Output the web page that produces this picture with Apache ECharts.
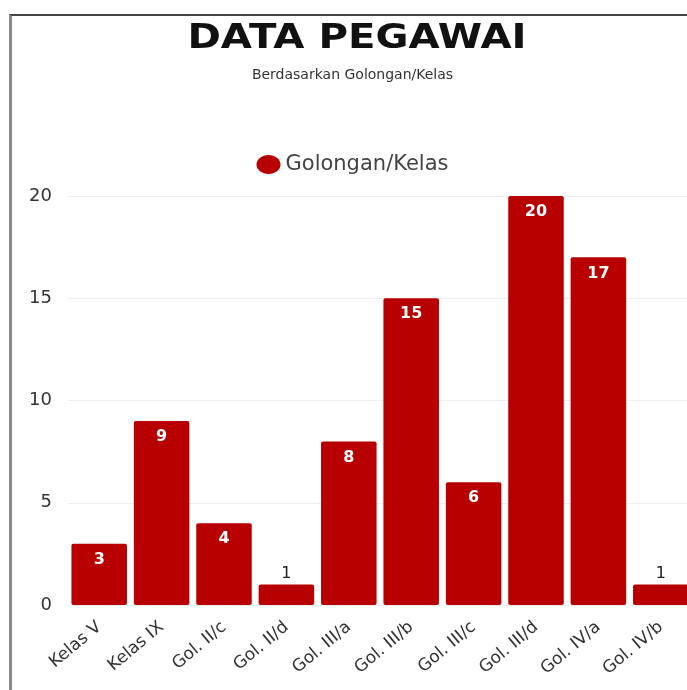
<!DOCTYPE html>
<html>
<head>
<meta charset="utf-8">
<script src="https://cdn.jsdelivr.net/npm/echarts@6/dist/echarts.min.js"></script>
<style>
  html, body { margin: 0; padding: 0; background: #fff; overflow: hidden; }
  #frame {
    position: absolute; left: 9px; top: 14px; width: 690px; height: 690px;
    border-top: 2px solid #444; border-left: 3px solid #888;
  }
  #chart { position: absolute; left: -12px; top: -16px; width: 705px; height: 690px; }
</style>
</head>
<body>
<div id="frame"><div id="chart"></div></div>
<script>
var categories = ['Kelas V', 'Kelas IX', 'Gol. II/c', 'Gol. II/d', 'Gol. III/a', 'Gol. III/b', 'Gol. III/c', 'Gol. III/d', 'Gol. IV/a', 'Gol. IV/b']
var values = [3, 9, 4, 1, 8, 15, 6, 20, 17, 1]
var yTicks = [0, 5, 10, 15, 20]
var seriesName = 'Golongan/Kelas'

var chart = echarts.init(document.getElementById('chart'))
var font = '"DejaVu Sans", sans-serif'

chart.setOption({
  animation: false,
  title: {
    text: 'Berdasarkan Golongan/Kelas',
    left: 'center',
    top: 63,
    textStyle: {
      fontFamily: font,
      fontWeight: 'normal',
      fontSize: 14,
      color: '#333'
    }
  },
  graphic: [{
    type: 'text',
    x: 357,
    y: 39,
    scaleX: 1.22,
    style: {
      text: 'DATA PEGAWAI',
      font: '900 33px "DejaVu Sans", sans-serif',
      fill: '#111',
      align: 'center',
      verticalAlign: 'middle'
    }
  }],
  legend: {
    data: [seriesName],
    top: 149,
    left: 'center',
    icon: 'path://M12,0 C18.6,0 24,4.3 24,9.5 C24,14.7 18.6,19 12,19 C5.4,19 0,14.7 0,9.5 C0,4.3 5.4,0 12,0 Z',
    itemWidth: 24,
    itemHeight: 19,
    itemGap: 11,
    textStyle: { fontFamily: font, fontSize: 21, color: '#444' }
  },
  grid: {
    left: 68,
    right: 13,
    top: 196,
    bottom: 85
  },
  xAxis: {
    type: 'category',
    data: categories,
    axisLine: { show: false },
    axisTick: { show: false },
    axisLabel: {
      rotate: 40,
      margin: 20,
      interval: 0,
      fontFamily: font,
      fontSize: 17,
      color: '#333'
    }
  },
  yAxis: {
    type: 'value',
    min: yTicks[0],
    max: yTicks[yTicks.length - 1],
    interval: 5,
    axisLabel: {
      margin: 16,
      fontFamily: font,
      fontSize: 18,
      color: '#333'
    },
    splitLine: { lineStyle: { color: '#eeeeee' } }
  },
  series: [{
    name: seriesName,
    type: 'bar',
    barCategoryGap: '11%',
    itemStyle: { color: '#b80000', borderRadius: 2 },
    label: {
      show: true,
      position: 'insideTop',
      distance: 8,
      fontFamily: font,
      fontSize: 16,
      fontWeight: 'bold',
      color: '#fff'
    },
    data: values.map(function(v) {
      if (v < 2) {
        return { value: v, label: { position: 'top', distance: 3, color: '#222', fontWeight: 'normal' } }
      }
      return v
    })
  }]
})
</script>
</body>
</html>
